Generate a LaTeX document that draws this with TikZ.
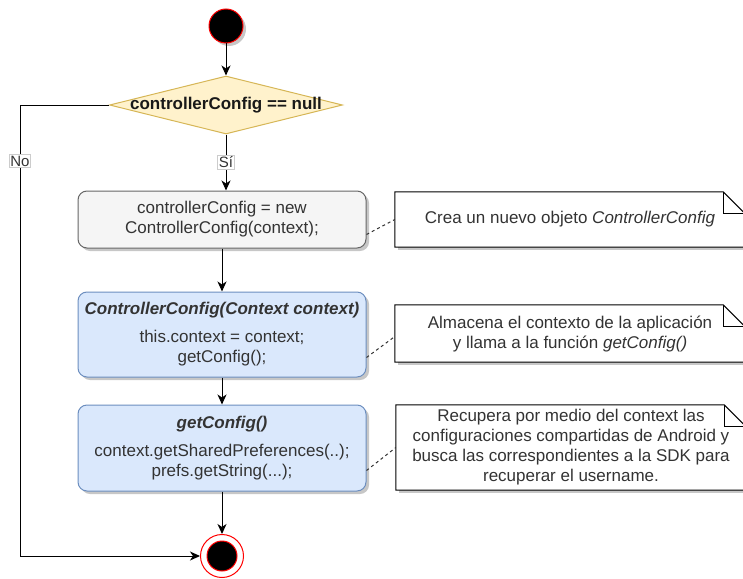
\documentclass[tikz,border=0pt]{standalone}
\usepackage{fontspec}
\setmainfont{Liberation Sans}
\usetikzlibrary{arrows.meta,shapes.geometric,shadows}
\definecolor{graybg}{HTML}{F5F5F5}
\definecolor{grayln}{HTML}{666666}
\definecolor{bluebg}{HTML}{DAE8FC}
\definecolor{blueln}{HTML}{6C8EBF}
\definecolor{yelbg}{HTML}{FFF2CC}
\definecolor{yelln}{HTML}{D6B656}
\definecolor{txt}{HTML}{333333}

\begin{document}
\begin{tikzpicture}[x=1pt,y=-1pt,
  font=\fontsize{17}{20}\selectfont,
  softshadow/.style={drop shadow={shadow xshift=3pt,shadow yshift=-3pt,opacity=0.4,fill=black!55}},
  flow/.style={draw=black,line width=1pt,-{Stealth[length=10pt,width=9pt,inset=3pt]}},
  notelink/.style={draw=txt,line width=1pt,dash pattern=on 3pt off 3pt},
  noteline/.style={draw=black,line width=1pt},
  stepbox/.style={rectangle,rounded corners=9pt,line width=1pt,minimum width=288pt,
                  align=center,text=txt,softshadow,inner sep=0pt},
  graybox/.style={stepbox,fill=graybg,draw=grayln},
  bluebox/.style={stepbox,fill=bluebg,draw=blueln},
  notebox/.style={rectangle,fill=white,minimum width=350pt,align=center,text=txt,
                  softshadow,inner sep=0pt},
  lbl/.style={fill=white,draw=black!20,line width=0.6pt,inner sep=1.2pt,
              font=\fontsize{15}{16}\selectfont,text=txt}
]
\useasboundingbox (0,0) rectangle (743,578);

% start and decision
\node[circle,fill=black,draw=red,line width=1pt,minimum size=34pt,inner sep=0pt,softshadow]
  (start) at (226,26) {};
\node[diamond,fill=yelbg,draw=yelln,line width=1pt,minimum width=233pt,minimum height=58pt,
      inner sep=0pt,
      label={[font=\fontsize{17}{20}\selectfont\bfseries,text=black!90]center:controllerConfig == null}]
  (dia) at (226,105) {};

% action boxes
\node[graybox,minimum height=57pt] (b1) at (222,219.5)
  {controllerConfig = new\\ControllerConfig(context);};
\node[bluebox,minimum height=85pt] (b2) at (222,334.5)
  {{\bfseries\itshape ControllerConfig(Context context)}\\[8pt]this.context = context;\\getConfig();};
\node[bluebox,minimum height=86pt] (b3) at (222,448)
  {{\bfseries\itshape getConfig()}\\[8pt]context.getSharedPreferences(..);\\prefs.getString(...);};

% final state
\node[circle,draw=red,fill=white,line width=1pt,minimum size=43pt,inner sep=0pt]
  (stop) at (222,556) {};
\node[circle,draw=red,fill=black,line width=1pt,minimum size=30pt,inner sep=0pt]
  (stopdot) at (stop) {};

% notes
\node[notebox,minimum height=55pt] (n1) at (570,219.5)
  {Crea un nuevo objeto \textit{ControllerConfig}};
\node[notebox,minimum height=57pt] (n2) at (570,333.5)
  {Almacena el contexto de la aplicación\\y llama a la función \textit{getConfig()}};
\node[notebox,minimum height=85pt] (n3) at (571,447.5)
  {Recupera por medio del context las\\configuraciones compartidas de Android y\\busca las correspondientes a la SDK para\\recuperar el username.};

\foreach \n in {n1,n2,n3}{
  \draw[noteline] (\n.north west) -- ([xshift=-22pt]\n.north east)
    -- ([yshift=-22pt]\n.north east) -- (\n.south east) -- (\n.south west) -- cycle;
  \draw[noteline] ([xshift=-22pt]\n.north east) -- ([xshift=-22pt,yshift=-22pt]\n.north east)
    -- ([yshift=-22pt]\n.north east);
}

% control flow
\coordinate (nocorner1) at (20,105);
\coordinate (nocorner2) at (20,556);
\draw[flow] (start) -- (dia);
\draw[flow] (dia.south) -- node[lbl,midway]{Sí} (dia.south |- b1.north);
\draw[flow] (b1.south) -- (b2.north);
\draw[flow] (b2.south) -- (b3.north);
\draw[flow] (b3.south) -- (stop.north);
\draw[flow] (dia.west) -- (nocorner1) -- node[lbl,pos=0.124]{No} (nocorner2) -- (stop.west);

% note links
\draw[notelink] ([yshift=14pt]b1.south east) -- (n1.west);
\draw[notelink] ([yshift=20pt]b2.south east) -- ([yshift=-3pt]n2.west);
\draw[notelink] ([yshift=21pt]b3.south east) -- (n3.west);
\end{tikzpicture}
\end{document}
